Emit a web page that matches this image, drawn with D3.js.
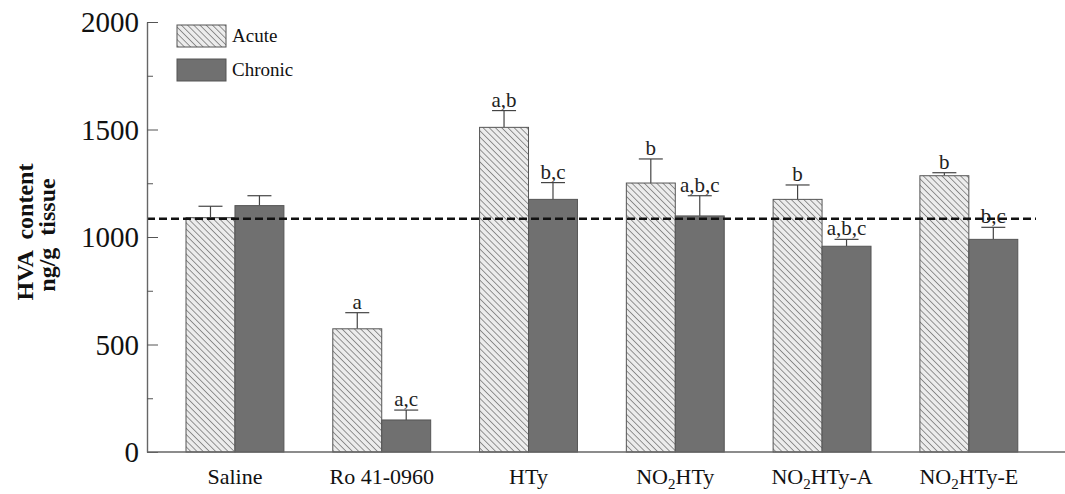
<!DOCTYPE html>
<html>
<head>
<meta charset="utf-8">
<script src="https://cdn.jsdelivr.net/npm/d3@7.9.0/dist/d3.min.js"></script>
<style>
  body { margin: 0; background: #fff; }
  svg { display: block; }
  svg text { font-family: 'Liberation Serif', 'DejaVu Serif', serif; }
</style>
</head>
<body>
<svg width="1065" height="494"></svg>
<script>
const groups = ['Saline', 'Ro 41-0960', 'HTy', 'NO2HTy', 'NO2HTy-A', 'NO2HTy-E'];
const acute = [1090, 573, 1510, 1251, 1175, 1285];
const acuteErr = [53, 75, 78, 112, 67, 14];
const chronic = [1146, 149, 1175, 1098, 957, 989];
const chronicErr = [46, 46, 78, 94, 32, 56];
const acuteMarks = ['', 'a', 'a,b', 'b', 'b', 'b'];
const chronicMarks = ['', 'a,c', 'b,c', 'a,b,c', 'a,b,c', 'b,c'];
const controlLine = 1085;
const yTicks = [0, 500, 1000, 1500, 2000];

const svg = d3.select('svg');

// hatch for acute bars (lines running top-left to bottom-right)
const defs = svg.append('defs');
const hatch = defs.append('pattern')
  .attr('id', 'hatch')
  .attr('patternUnits', 'userSpaceOnUse')
  .attr('width', 4.4).attr('height', 4.4)
  .attr('patternTransform', 'rotate(-45)');
hatch.append('rect').attr('width', 4.4).attr('height', 4.4).attr('fill', '#ececec');
hatch.append('line').attr('x1', 0).attr('y1', 0).attr('x2', 0).attr('y2', 4.4)
  .attr('stroke', '#555').attr('stroke-width', 1.2);

const y = d3.scaleLinear().domain([0, 2000]).range([452, 22]);
const x = d3.scaleBand().domain(groups).range([161.5, 1042.3])
  .paddingInner(0.333).paddingOuter(0.167);
const sub = d3.scaleBand().domain(['acute', 'chronic']).range([0, x.bandwidth()]);

// bars
const series = [
  { key: 'acute', vals: acute, err: acuteErr, marks: acuteMarks, fill: 'url(#hatch)' },
  { key: 'chronic', vals: chronic, err: chronicErr, marks: chronicMarks, fill: '#707070' },
];

series.forEach((s) => {
  const g = svg.append('g');
  groups.forEach((grp, i) => {
    const bx = x(grp) + sub(s.key);
    const bw = sub.bandwidth();
    const cx = bx + bw / 2;
    const top = y(s.vals[i]);
    const errTop = y(s.vals[i] + s.err[i]);
    g.append('line').attr('x1', cx).attr('x2', cx).attr('y1', top).attr('y2', errTop)
      .attr('stroke', '#444').attr('stroke-width', 1.2);
    g.append('line').attr('x1', cx - 12).attr('x2', cx + 12).attr('y1', errTop).attr('y2', errTop)
      .attr('stroke', '#444').attr('stroke-width', 1.2);
    g.append('rect')
      .attr('x', bx).attr('y', top)
      .attr('width', bw).attr('height', y(0) - top)
      .attr('fill', s.fill).attr('stroke', '#555').attr('stroke-width', 1);
    if (s.marks[i]) {
      g.append('text').attr('x', cx).attr('y', errTop - 4)
        .attr('text-anchor', 'middle').attr('font-size', 21).attr('fill', '#222')
        .text(s.marks[i]);
    }
  });
});

// control reference line
svg.append('line')
  .attr('x1', 147).attr('x2', 1036)
  .attr('y1', y(controlLine)).attr('y2', y(controlLine))
  .attr('stroke', '#111').attr('stroke-width', 2.4).attr('stroke-dasharray', '8,4');

// y axis, ticks pointing inward
const yAxis = d3.axisRight(y).tickValues(d3.range(0, 2001, 250)).tickSizeOuter(0)
  .tickFormat('');
const ya = svg.append('g').attr('transform', 'translate(147,0)').call(yAxis);
ya.select('.domain').attr('stroke', '#666').attr('stroke-width', 1.4);
ya.selectAll('.tick line')
  .attr('stroke', '#555')
  .attr('x2', (d) => (d % 500 === 0 ? 11 : 6));
svg.append('g').selectAll('text').data(yTicks).join('text')
  .attr('x', 139).attr('y', (d) => y(d) + 10)
  .attr('text-anchor', 'end').attr('font-size', 29).attr('fill', '#111')
  .text((d) => d);

// x axis line
svg.append('line').attr('x1', 147).attr('x2', 1065).attr('y1', y(0)).attr('y2', y(0))
  .attr('stroke', '#666').attr('stroke-width', 1.4);

// x labels
const xl = svg.append('g').selectAll('text').data(groups).join('text')
  .attr('x', (d) => x(d) + x.bandwidth() / 2)
  .attr('y', 484)
  .attr('text-anchor', 'middle').attr('font-size', 22).attr('fill', '#111');
xl.each(function (d) {
  const t = d3.select(this);
  if (d.startsWith('NO2')) {
    t.append('tspan').text('NO');
    t.append('tspan').attr('font-size', 15).attr('dy', 5).text('2');
    t.append('tspan').attr('dy', -5).text(d.slice(3));
  } else {
    t.text(d);
  }
});

// y title
const yt = svg.append('text').attr('transform', 'translate(33,232) rotate(-90)')
  .attr('text-anchor', 'middle').attr('font-weight', 'bold').attr('font-size', 24).attr('fill', '#111')
  .style('white-space', 'pre');
yt.append('tspan').attr('x', 0).attr('dy', 0).text('HVA  content');
yt.append('tspan').attr('x', -3).attr('dy', 22).text('ng/g  tissue');

// legend
const legend = svg.append('g');
const legItems = [['Acute', 'url(#hatch)'], ['Chronic', '#707070']];
legItems.forEach(([name, fill], i) => {
  legend.append('rect').attr('x', 177).attr('y', 25 + i * 34)
    .attr('width', 49).attr('height', 22)
    .attr('fill', fill).attr('stroke', '#555');
  legend.append('text').attr('x', 232).attr('y', 42 + i * 34)
    .attr('font-size', 19).attr('fill', '#111').text(name);
});
</script>
</body>
</html>
